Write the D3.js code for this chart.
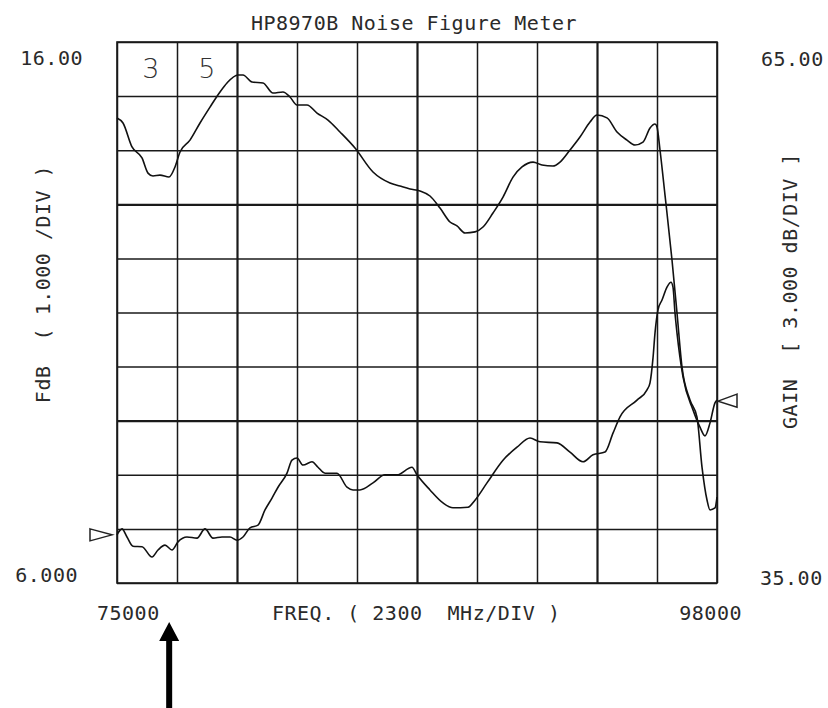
<!DOCTYPE html>
<html>
<head>
<meta charset="utf-8">
<script src="https://cdn.jsdelivr.net/npm/d3@7"></script>
<style>
  body { margin: 0; background: #fff; }
  svg text { font-family: "DejaVu Sans Mono", monospace; font-size: 20px; fill: #2a2a2a; letter-spacing: 0.5px; white-space: pre; }
</style>
</head>
<body>
<svg id="chart" width="828" height="708"></svg>
<script>
// gain trace (right axis, dB)
const gainFreq = [75000, 75230, 75575, 75958, 76188, 76380, 76648, 76993, 77223, 77415,
  77798, 78182, 78565, 78948, 79217, 79638, 79830, 80175, 80597, 80980,
  81363, 81632, 81900, 82283, 82667, 83088, 83548, 84123, 84813, 85465,
  85848, 86232, 86615, 86998, 87382, 87765, 88033, 88340, 88723, 89030,
  89413, 89797, 90180, 90525, 90947, 91292, 91713, 91982, 92365, 92748,
  93132, 93400, 93783, 94167, 94550, 94857, 95163, 95432, 95623, 95700,
  95815, 96007, 96275, 96467, 96658, 96965, 97233, 97425, 97617, 97732,
  97923, 98000];
const gainDb = [60.79, 60.51, 59.18, 58.57, 57.73, 57.57, 57.62, 57.51, 58.07, 58.90,
  59.56, 60.51, 61.39, 62.23, 62.73, 63.17, 63.17, 62.78, 62.73, 62.17,
  62.23, 61.95, 61.51, 61.51, 61.06, 60.67, 60.01, 59.12, 57.79, 57.18,
  57.01, 56.85, 56.74, 56.46, 55.79, 55.02, 54.80, 54.41, 54.47, 54.74,
  55.52, 56.40, 57.51, 58.07, 58.34, 58.18, 58.12, 58.34, 59.01, 59.73,
  60.56, 60.95, 60.79, 60.01, 59.56, 59.29, 59.45, 60.23, 60.45, 60.29,
  59.01, 56.51, 52.91, 49.97, 46.98, 45.15, 44.20, 41.43, 39.60, 39.05,
  39.16, 39.77];

// noise figure trace (left axis, FdB)
const nfFreq = [75000, 75192, 75383, 75613, 75958, 76342, 76572, 76840, 77108, 77338,
  77683, 78067, 78373, 78680, 79025, 79332, 79600, 79830, 80098, 80405,
  80673, 80942, 81172, 81517, 81708, 81900, 82130, 82475, 82705, 82973,
  83433, 83817, 84047, 84315, 84813, 85273, 85733, 86308, 86500, 86998,
  87497, 87880, 88455, 88723, 89183, 89797, 90333, 90832, 91215, 91867,
  92365, 92863, 93247, 93707, 94013, 94282, 94933, 95317, 95432, 95547,
  95623, 95738, 95892, 96083, 96237, 96313, 96390, 96467, 96697, 97080,
  97348, 97540, 97732, 97923, 98000];
const nfDb = [6.89, 7.00, 6.85, 6.68, 6.67, 6.48, 6.61, 6.70, 6.61, 6.76,
  6.85, 6.83, 7.00, 6.83, 6.85, 6.85, 6.79, 6.85, 7.02, 7.07,
  7.35, 7.57, 7.77, 8.03, 8.27, 8.31, 8.18, 8.24, 8.14, 8.03,
  8.03, 7.77, 7.72, 7.72, 7.85, 8.00, 8.00, 8.14, 8.00, 7.72,
  7.48, 7.39, 7.40, 7.53, 7.85, 8.27, 8.51, 8.68, 8.61, 8.59,
  8.42, 8.24, 8.37, 8.42, 8.77, 9.07, 9.38, 9.57, 9.70, 10.16,
  10.62, 11.05, 11.23, 11.47, 11.56, 11.47, 10.99, 10.62, 9.81, 9.20,
  8.88, 8.72, 8.96, 9.33, 9.38];

const freqRange = [75000, 98000];
const fdbRange = [6, 16];
const gainRange = [35, 65];
const divisions = 10;
const freqLabels = ["75000", "98000"];
const fdbLabels = ["6.000", "16.00"];
const gainLabels = ["35.00", "65.00"];
const titleText = "HP8970B Noise Figure Meter";
const freqTitle = "FREQ. ( 2300  MHz/DIV )";
const fdbTitle = "FdB  ( 1.000 /DIV )";
const gainTitle = "GAIN  [ 3.000 dB/DIV ]";
const handNotes = ["3", "5"];

const svg = d3.select("#chart");
const plotLeft = 117, plotTop = 42, plotW = 600, plotH = 541;
const plotRight = plotLeft + plotW, plotBottom = plotTop + plotH;

const x = d3.scaleLinear().domain(freqRange).range([plotLeft, plotRight]);
const yFdb = d3.scaleLinear().domain(fdbRange).range([plotBottom, plotTop]);
const yGain = d3.scaleLinear().domain(gainRange).range([plotBottom, plotTop]);

const xTicks = d3.range(divisions + 1).map(i => freqRange[0] + i * (freqRange[1] - freqRange[0]) / divisions);
const yTicks = d3.range(divisions + 1).map(i => fdbRange[0] + i * (fdbRange[1] - fdbRange[0]) / divisions);

// grid
const gx = svg.append("g")
  .attr("transform", `translate(0,${plotBottom})`)
  .call(d3.axisBottom(x).tickValues(xTicks).tickSize(-plotH).tickFormat(""));
const gy = svg.append("g")
  .attr("transform", `translate(${plotLeft},0)`)
  .call(d3.axisLeft(yFdb).tickValues(yTicks).tickSize(-plotW).tickFormat(""));
[gx, gy].forEach(g => {
  g.select(".domain").remove();
  g.selectAll(".tick line").attr("stroke", "#1a1a1a").attr("stroke-width", 1.5);
});
// a few of the plotter lines come out heavier
gx.selectAll(".tick line").filter((d, i) => i % 3 === 2).attr("stroke-width", 2.2);
gy.selectAll(".tick line").filter((d, i) => i % 4 === 3).attr("stroke-width", 2.2);

svg.append("rect")
  .attr("x", plotLeft).attr("y", plotTop)
  .attr("width", plotW).attr("height", plotH)
  .attr("fill", "none").attr("stroke", "#1a1a1a").attr("stroke-width", 1.6);

// traces
const gainLine = d3.line()
  .x(d => x(d[0])).y(d => yGain(d[1]))
  .curve(d3.curveMonotoneX);
const nfLine = d3.line()
  .x(d => x(d[0])).y(d => yFdb(d[1]))
  .curve(d3.curveMonotoneX);

svg.append("path")
  .datum(d3.zip(gainFreq, gainDb))
  .attr("d", gainLine)
  .attr("fill", "none").attr("stroke", "#111").attr("stroke-width", 1.6);
svg.append("path")
  .datum(d3.zip(nfFreq, nfDb))
  .attr("d", nfLine)
  .attr("fill", "none").attr("stroke", "#111").attr("stroke-width", 1.6);

// end markers of the trace
const y0 = yFdb(nfDb[0]);
svg.append("path")
  .attr("d", `M${plotLeft - 27},${y0 - 6}L${plotLeft - 5},${y0}L${plotLeft - 27},${y0 + 6}Z`)
  .attr("fill", "none").attr("stroke", "#222").attr("stroke-width", 1.5);
const y1 = yFdb(nfDb[nfDb.length - 1]);
svg.append("path")
  .attr("d", `M${plotRight + 20},${y1 - 6}L${plotRight + 1},${y1 + 1}L${plotRight + 20},${y1 + 7}Z`)
  .attr("fill", "none").attr("stroke", "#222").attr("stroke-width", 1.5);

// texts
svg.append("text").attr("x", 414).attr("y", 30).attr("text-anchor", "middle").text(titleText);

svg.append("text").attr("x", 83).attr("y", yFdb(fdbRange[1]) + 23).attr("text-anchor", "end").text(fdbLabels[1]);
svg.append("text").attr("x", 78).attr("y", yFdb(fdbRange[0]) - 1).attr("text-anchor", "end").text(fdbLabels[0]);
svg.append("text").attr("x", 761).attr("y", yGain(gainRange[1]) + 24).text(gainLabels[1]);
svg.append("text").attr("x", 760).attr("y", yGain(gainRange[0]) + 2).text(gainLabels[0]);

svg.append("text").attr("x", x(freqRange[0]) - 20).attr("y", 620).text(freqLabels[0]);
svg.append("text").attr("x", x(freqRange[1]) + 25).attr("y", 620).attr("text-anchor", "end").text(freqLabels[1]);
svg.append("text").attr("x", 272).attr("y", 620).text(freqTitle);

svg.append("text").attr("transform", "translate(50,284) rotate(-90)").attr("text-anchor", "middle").text(fdbTitle);
svg.append("text").attr("transform", "translate(797,291) rotate(-90)").attr("text-anchor", "middle").text(gainTitle);

// handwritten cell notes
svg.selectAll(".note")
  .data(handNotes)
  .enter()
  .append("text")
  .attr("class", "note")
  .attr("x", (d, i) => [151, 207][i])
  .attr("y", 78)
  .attr("text-anchor", "middle")
  .style("font-family", "'DejaVu Sans', sans-serif")
  .style("font-weight", "200")
  .style("font-size", "27px")
  .style("fill", "#333")
  .text(d => d);

// pointer arrow below the plot
const ax = x(77000);
svg.append("path")
  .attr("d", `M${ax - 3},708L${ax - 3},641L${ax - 10},641L${ax},622L${ax + 10},641L${ax + 3},641L${ax + 3},708Z`)
  .attr("fill", "#000");
</script>
</body>
</html>
